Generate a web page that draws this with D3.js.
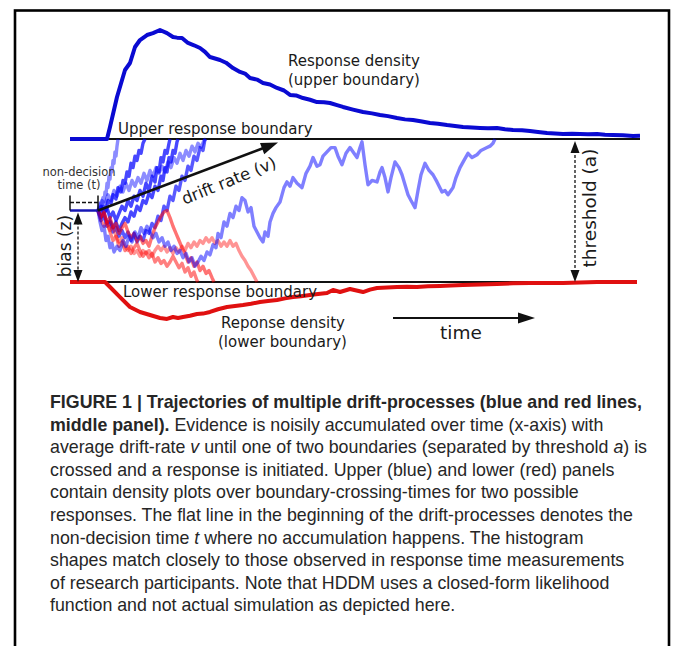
<!DOCTYPE html>
<html><head><meta charset="utf-8">
<script src="https://cdn.jsdelivr.net/npm/d3@7"></script>
<style>body{margin:0;background:#fff}svg{display:block}</style>
</head><body>
<svg id="c" width="673" height="646"></svg>
<script>
// ---- data (time in ms, evidence 0 = lower boundary, 1 = upper boundary) ----
const upperDensity = [[0,0],[74,0],[80,.11],[94,.385],[110,.633],[120,.697],[130,.844],[140,.908],[154,.954],[166,.972],[180,1.0],[194,.972],[206,.936],[214,.93],[224,.927],[236,.881],[248,.86],[260,.835],[270,.80],[280,.752],[300,.725],[312,.70],[326,.651],[340,.615],[350,.60],[360,.560],[374,.545],[386,.514],[400,.50],[414,.468],[428,.445],[440,.404],[452,.40],[466,.376],[480,.36],[494,.339],[508,.338],[520,.330],[534,.31],[546,.294],[566,.27],[586,.248],[604,.235],[620,.220],[636,.21],[654,.193],[670,.18],[686,.174],[704,.16],[720,.147],[736,.14],[754,.128],[770,.12],[786,.110],[804,.105],[820,.101],[836,.098],[854,.101],[870,.09],[886,.083],[904,.08],[920,.073],[936,.065],[954,.055],[970,.05],[986,.046],[1004,.048],[1020,.046],[1036,.043],[1054,.046],[1070,.04],[1086,.037],[1106,.034],[1126,.028],[1140,.03]];
const lowerDensity = [[0,0],[70,0],[80,.046],[100,.138],[120,.229],[140,.275],[160,.303],[180,.330],[194,.339],[206,.321],[216,.33],[226,.321],[240,.31],[254,.294],[266,.29],[280,.275],[296,.25],[314,.229],[330,.22],[346,.211],[362,.20],[380,.183],[396,.175],[414,.165],[430,.15],[446,.138],[462,.13],[480,.119],[496,.11],[514,.101],[526,.073],[540,.092],[560,.064],[586,.092],[600,.07],[614,.055],[634,.05],[654,.046],[674,.044],[694,.046],[716,.04],[740,.037],[762,.033],[786,.028],[820,.022],[854,.018],[886,.012],[920,.009],[952,.01],[986,.009],[1020,.004],[1054,0],[1134,0]];

const trajB1 = [[56,.50],[60,.55],[62,.52],[66,.59],[68,.56],[70,.63],[72,.61],[74,.69],[76,.66],[78,.74],[80,.72],[82,.80],[84,.77],[86,.85],[88,.83],[90,.91],[92,.88],[94,.95],[96,1.0]];
const trajB2 = [[56,.50],[62,.47],[66,.53],[72,.50],[76,.57],[82,.55],[86,.61],[92,.58],[96,.66],[102,.63],[106,.71],[110,.69],[114,.77],[118,.74],[122,.83],[126,.80],[130,.88],[134,.85],[138,.92],[142,.90],[146,.97],[150,1.0]];
const trajB3 = [[56,.50],[62,.45],[68,.48],[74,.41],[80,.43],[86,.38],[92,.42],[98,.36],[104,.41],[110,.45],[116,.42],[122,.49],[128,.46],[134,.53],[140,.50],[146,.57],[152,.55],[158,.62],[164,.59],[170,.67],[176,.64],[182,.74],[186,.71],[190,.80],[194,.77],[198,.87],[202,.84],[206,.92],[210,.90],[214,.98],[216,1.0]];
const trajB4 = [[56,.50],[64,.57],[70,.54],[76,.61],[82,.57],[88,.64],[94,.60],[100,.67],[106,.63],[112,.69],[118,.64],[124,.71],[130,.67],[136,.73],[142,.69],[148,.76],[154,.71],[160,.78],[166,.74],[172,.80],[178,.76],[184,.81],[190,.77],[196,.84],[202,.80],[208,.87],[214,.83],[220,.90],[226,.85],[232,.92],[238,.88],[244,.95],[250,.91],[256,.97],[262,.94],[268,.99],[272,1.0]];
const trajB5 = [[56,.50],[62,.43],[68,.46],[74,.39],[80,.42],[86,.35],[92,.38],[98,.32],[104,.36],[110,.31],[116,.35],[122,.29],[128,.34],[134,.28],[140,.32],[146,.29],[152,.36],[158,.34],[164,.41],[170,.38],[176,.46],[182,.43],[188,.53],[194,.50],[200,.60],[206,.57],[212,.67],[218,.64],[224,.74],[230,.71],[236,.81],[242,.78],[248,.88],[254,.85],[260,.94],[266,.92],[270,1.0]];
const trajB6 = [[56,.50],[62,.53],[68,.48],[74,.52],[80,.45],[86,.49],[92,.43],[98,.48],[104,.53],[110,.50],[116,.57],[122,.53],[128,.60],[134,.57],[140,.64],[146,.60],[152,.69],[158,.64],[164,.74],[170,.70],[174,.80],[178,.77],[182,.87],[186,.84],[190,.92],[194,.90],[198,.97],[200,1.0]];
const trajL1 = [[56,.50],[60,.42],[64,.36],[68,.39],[72,.29],[76,.32],[80,.24],[84,.27],[88,.21],[94,.25],[100,.22],[106,.29],[112,.25],[118,.32],[124,.28],[130,.35],[136,.31],[142,.38],[148,.34],[154,.39],[160,.35],[166,.31],[172,.34],[178,.28],[184,.31],[190,.25],[196,.28],[202,.22],[208,.25],[214,.20],[220,.22],[226,.17],[232,.20],[238,.14],[244,.17],[250,.11],[256,.14],[262,.18],[268,.15],[274,.21],[280,.19],[286,.26],[292,.24],[296,.34],[302,.31],[308,.42],[314,.39],[320,.48],[326,.45],[332,.53],[338,.50],[344,.59],[350,.57],[356,.49],[362,.52],[368,.39],[374,.35],[380,.31],[386,.28],[390,.35],[396,.32],[400,.42],[406,.48],[412,.52],[420,.56],[428,.66],[434,.70],[440,.67],[446,.73],[454,.69],[464,.66],[472,.76],[480,.81],[486,.87],[494,.81],[500,.82],[506,.88],[514,.91],[522,.94],[530,.94],[536,.88],[544,.82],[552,.90],[560,.94],[568,.90],[574,.87],[580,.94],[584,.98],[590,.82],[596,.68],[604,.71],[614,.70],[620,.77],[624,.80],[630,.73],[636,.63],[642,.73],[650,.84],[658,.80],[664,.75],[670,.68],[676,.61],[682,.57],[690,.52],[696,.64],[702,.75],[710,.83],[718,.78],[726,.75],[734,.70],[744,.63],[750,.64],[756,.61],[762,.64],[766,.66],[772,.73],[780,.80],[788,.85],[796,.90],[804,.87],[814,.89],[822,.92],[834,.94],[840,.95],[846,.97],[850,1.0]];
const trajR1 = [[56,.50],[62,.46],[68,.49],[74,.42],[80,.45],[86,.38],[92,.41],[98,.34],[104,.38],[110,.41],[116,.35],[122,.31],[128,.34],[134,.29],[140,.32],[146,.27],[152,.29],[158,.25],[164,.32],[170,.38],[176,.42],[182,.46],[188,.49],[194,.50],[200,.45],[206,.39],[212,.34],[218,.29],[224,.24],[230,.20],[236,.14],[242,.17],[248,.11],[254,.14],[260,.08],[266,.11],[272,.06],[278,.08],[284,.03],[288,0]];
const trajR2 = [[56,.50],[62,.45],[68,.48],[74,.41],[80,.36],[86,.39],[92,.32],[98,.28],[104,.31],[110,.25],[116,.22],[122,.25],[128,.20],[134,.22],[140,.18],[146,.22],[152,.20],[158,.22],[164,.18],[170,.22],[176,.25],[182,.22],[188,.25],[194,.21],[200,.24],[206,.20],[212,.24],[218,.21],[224,.25],[230,.22],[236,.27],[242,.24],[248,.28],[254,.25],[260,.29],[266,.27],[272,.31],[278,.28],[284,.31],[290,.27],[296,.29],[302,.25],[308,.28],[314,.25],[320,.29],[326,.25],[332,.27],[338,.22],[344,.18],[350,.15],[356,.11],[362,.08],[368,.04],[374,0]];
const trajR3 = [[56,.50],[62,.43],[68,.39],[74,.42],[80,.35],[86,.29],[92,.32],[98,.25],[104,.28],[110,.22],[116,.25],[122,.20],[128,.24],[134,.27],[140,.22],[146,.18],[152,.21],[158,.17],[164,.20],[170,.14],[176,.17],[182,.13],[188,.15],[194,.11],[200,.14],[206,.18],[212,.14],[218,.10],[224,.13],[230,.07],[236,.10],[242,.04],[248,.07],[254,.01],[256,0]];

const nonDecisionTime = 56;   // t
const biasZ = 0.5;            // z
const thresholdA = 1;         // a
const driftArrowEnd = [416, 0.975];

const captionLines = [
 [["FIGURE 1 | Trajectories of multiple drift-processes (blue and red lines,","b"]],
 [["middle panel).","b"],[" Evidence is noisily accumulated over time (x-axis) with","n"]],
 [["average drift-rate ","n"],["v","i"],[" until one of two boundaries (separated by threshold ","n"],["a","i"],[") is","n"]],
 [["crossed and a response is initiated. Upper (blue) and lower (red) panels","n"]],
 [["contain density plots over boundary-crossing-times for two possible","n"]],
 [["responses. The flat line in the beginning of the drift-processes denotes the","n"]],
 [["non-decision time ","n"],["t","i"],[" where no accumulation happens. The histogram","n"]],
 [["shapes match closely to those observed in response time measurements","n"]],
 [["of research participants. Note that HDDM uses a closed-form likelihood","n"]],
 [["function and not actual simulation as depicted here.","n"]]
];

// ---- drawing ----
const svg = d3.select("#c");
const x = d3.scaleLinear().domain([0, 1140]).range([70, 640]);
const y = d3.scaleLinear().domain([0, thresholdA]).range([282, 139]);
const dUp = d3.scaleLinear().domain([0, 1]).range([y(thresholdA), 30]);
const dLow = d3.scaleLinear().domain([0, 1]).range([y(0), y(0) + 109]);

svg.append("rect").attr("x",15).attr("y",10.5).attr("width",654).attr("height",660)
  .attr("fill","#fff").attr("stroke","#000").attr("stroke-width",2.6);

const FONT = "DejaVu Sans, sans-serif";
const ink = "#1a1a1a";

svg.append("line").attr("x1",x(0)).attr("x2",x(1140)).attr("y1",y(thresholdA)).attr("y2",y(thresholdA))
  .attr("stroke","#111").attr("stroke-width",2);
svg.append("line").attr("x1",x(0)).attr("x2",x(1134)).attr("y1",y(0)).attr("y2",y(0))
  .attr("stroke","#111").attr("stroke-width",2);

const tline = d3.line().x(d=>x(d[0])).y(d=>y(d[1]));
const trajs = [
  [trajB2,"#0000ff",.72],[trajB3,"#0000ff",.72],[trajB5,"#0000ff",.65],[trajB6,"#0000ff",.72],
  [trajR1,"#ff0000",.55],[trajR3,"#ff0000",.5],[trajR2,"#ff0000",.42],
  [trajB1,"#0000ff",.45],[trajB4,"#0000ff",.45],[trajL1,"#0000ff",.5]
];
trajs.forEach(([data,col,op])=>{
  svg.append("path").attr("d",tline(data)).attr("fill","none")
    .attr("stroke",col).attr("stroke-opacity",op).attr("stroke-width",3.4)
    .attr("stroke-linejoin","round");
});

svg.append("path").attr("d", d3.line().x(d=>x(d[0])).y(d=>dUp(d[1]))(upperDensity))
  .attr("fill","none").attr("stroke","#0a0ad2").attr("stroke-width",4).attr("stroke-linejoin","round");
svg.append("path").attr("d", d3.line().x(d=>x(d[0])).y(d=>dLow(d[1]))(lowerDensity))
  .attr("fill","none").attr("stroke","#e01010").attr("stroke-width",4).attr("stroke-linejoin","round");

svg.append("line").attr("x1",x(0)).attr("x2",x(nonDecisionTime)).attr("y1",y(biasZ)).attr("y2",y(biasZ))
  .attr("stroke","#1515b5").attr("stroke-width",2.5);
[0, nonDecisionTime].forEach(t=>{
  svg.append("line").attr("x1",x(t)).attr("x2",x(t)).attr("y1",y(biasZ)).attr("y2",y(biasZ)-15)
    .attr("stroke","#111").attr("stroke-width",1.5);
});
svg.append("line").attr("x1",x(0)).attr("x2",x(nonDecisionTime)).attr("y1",y(biasZ)-8).attr("y2",y(biasZ)-8)
  .attr("stroke","#111").attr("stroke-width",1.3).attr("stroke-dasharray","4,2");

function head(tx,ty,ang,len,w){
  const c=Math.cos(ang), s=Math.sin(ang);
  const bx=tx-len*c, by=ty-len*s;
  return `M${tx},${ty}L${bx - w/2*s},${by + w/2*c}L${bx + w/2*s},${by - w/2*c}Z`;
}
{
  const x0=x(nonDecisionTime), y0=y(biasZ), x1=x(driftArrowEnd[0]), y1=y(driftArrowEnd[1]);
  const ang=Math.atan2(y1-y0,x1-x0);
  svg.append("line").attr("x1",x0).attr("y1",y0).attr("x2",x1-14*Math.cos(ang)).attr("y2",y1-14*Math.sin(ang))
    .attr("stroke","#111").attr("stroke-width",2.6);
  svg.append("path").attr("d",head(x1,y1,ang,17,12)).attr("fill","#111");
}
function dArrow(xx, yTop, yBot){
  svg.append("line").attr("x1",xx).attr("x2",xx).attr("y1",yTop+9).attr("y2",yBot-9)
    .attr("stroke","#111").attr("stroke-width",1.3).attr("stroke-dasharray","3,2");
  svg.append("path").attr("d",head(xx,yTop,-Math.PI/2,12,9)).attr("fill","#111");
  svg.append("path").attr("d",head(xx,yBot,Math.PI/2,12,9)).attr("fill","#111");
}
dArrow(x(16), y(biasZ)+2, y(0));
dArrow(x(1010), y(thresholdA)+2, y(0));

{
  const yy = dLow(0.33);
  svg.append("line").attr("x1",x(646)).attr("x2",x(930)-14).attr("y1",yy).attr("y2",yy)
    .attr("stroke","#111").attr("stroke-width",2);
  svg.append("path").attr("d",head(x(930),yy,0,17,11)).attr("fill","#111");
}

function lab(txt,xx,yy,size,opts={}){
  const t=svg.append("text").attr("x",xx).attr("y",yy).text(txt)
    .attr("font-family",FONT).attr("font-size",size).attr("fill",opts.fill||ink)
    .attr("text-anchor",opts.anchor||"start");
  if(opts.rot!==undefined) t.attr("transform",`rotate(${opts.rot},${xx},${yy})`);
  return t;
}
lab("Upper response boundary",118,134,15);
lab("Lower response boundary",123,297,15);
lab("Response density",288,66,15);
lab("(upper boundary)",288,85,15);
lab("Reponse density",221,328,15);
lab("(lower boundary)",218,347,15);
lab("time",440,339,18.5);
lab("non-decision",79,176,11.5,{anchor:"middle",fill:"#333"});
lab("time (t)",79,189,11.5,{anchor:"middle",fill:"#333"});
lab("bias (z)",71,246,17,{anchor:"middle",rot:-90});
lab("threshold (a)",596,208,18.5,{anchor:"middle",rot:-90});
lab("drift rate (v)",231,186,16.5,{anchor:"middle",rot:-22});

const cap = svg.append("g").attr("font-family","Liberation Sans, Arial, sans-serif").attr("font-size",17.8).attr("fill","#262626");
captionLines.forEach((segs,i)=>{
  const t = cap.append("text").attr("x",50).attr("y",408 + i*22.6);
  segs.forEach(([s,st])=>{
    const sp=t.append("tspan").text(s);
    if(st==="b") sp.attr("font-weight","bold");
    if(st==="i") sp.attr("font-style","italic");
  });
});
</script>
</body></html>
